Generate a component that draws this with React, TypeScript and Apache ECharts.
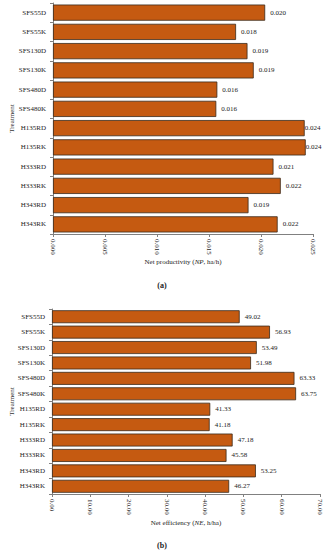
import React, { useEffect, useRef } from "react";
import * as echarts from "echarts";

const categories = ["SFS55D", "SFS55K", "SFS130D", "SFS130K", "SFS480D", "SFS480K", "H135RD", "H135RK", "H333RD", "H333RK", "H343RD", "H343RK"];
const netProductivity = [0.0204, 0.0176, 0.0187, 0.0193, 0.0158, 0.0157, 0.0242, 0.0243, 0.0212, 0.0219, 0.0188, 0.0216];
const netEfficiency = [49.02, 56.93, 53.49, 51.98, 63.33, 63.75, 41.33, 41.18, 47.18, 45.58, 53.25, 46.27];

const FONT = "'Liberation Serif', 'DejaVu Serif', serif";
const BAR = "#C55A11";
const AXIS = "#808080";

export default function App() {
  const ref = useRef<HTMLDivElement>(null);
  useEffect(() => {
    if (!ref.current) return;
    const chart = echarts.init(ref.current, null, { renderer: "svg" });
    const yAxisBase = (nameGap: number) => ({
      type: "category" as const,
      data: categories,
      inverse: true,
      name: "Treatment",
      nameLocation: "middle" as const,
      nameGap,
      nameMoveOverlap: false,
      nameTextStyle: { fontFamily: FONT, fontSize: 7, color: "#333" },
      axisLine: { show: true, lineStyle: { color: AXIS, width: 1 } },
      axisTick: { show: true, length: 3, lineStyle: { color: AXIS } },
      axisLabel: { fontFamily: FONT, fontSize: 7, color: "#222", margin: 7 },
      splitLine: { show: false },
    });
    const xAxisBase = (max: number, interval: number, digits: number, nameRich: string, nameGap: number) => ({
      type: "value" as const,
      min: 0,
      max,
      interval,
      name: nameRich,
      nameLocation: "middle" as const,
      nameGap,
      nameMoveOverlap: false,
      nameTextStyle: {
        fontFamily: FONT,
        fontSize: 7,
        color: "#222",
        rich: { i: { fontFamily: FONT, fontSize: 7, fontStyle: "italic", color: "#222" } },
      },
      axisLine: { show: true, lineStyle: { color: AXIS, width: 1 } },
      axisTick: { show: true, length: 3, lineStyle: { color: AXIS } },
      axisLabel: {
        fontFamily: FONT,
        fontSize: 7,
        color: "#222",
        rotate: -90,
        margin: 5,
        formatter: (v: number) => v.toFixed(digits),
      },
      splitLine: { show: false },
    });
    const seriesBase = (data: number[], idx: number, digits: number, crowdedAbove: number) => ({
      type: "bar" as const,
      xAxisIndex: idx,
      yAxisIndex: idx,
      data: data.map((v) => (v > crowdedAbove ? { value: v, label: { distance: 0 } } : v)),
      barCategoryGap: "16%",
      itemStyle: { color: BAR, borderColor: "#3a2a1a", borderWidth: 0.8 },
      label: {
        show: true,
        position: "right" as const,
        distance: 5,
        fontFamily: FONT,
        fontSize: 7,
        color: "#222",
        formatter: (p: any) => Number(p.value).toFixed(digits),
      },
    });
    chart.setOption({
      animation: false,
      backgroundColor: "#ffffff",
      grid: [
        { left: 53, right: 12, top: 3, height: 231, containLabel: false },
        { left: 46, right: 5, top: 309, height: 185, containLabel: false },
      ],
      xAxis: [
        { ...xAxisBase(0.025, 0.005, 3, "Net productivity ({i|NP}, ha/h)", 24), gridIndex: 0 },
        { ...xAxisBase(70, 10, 2, "Net efficiency ({i|NE}, h/ha)", 25), gridIndex: 1 },
      ],
      yAxis: [
        { ...yAxisBase(38), gridIndex: 0 },
        { ...yAxisBase(37), gridIndex: 1 },
      ],
      series: [seriesBase(netProductivity, 0, 3, 0.0235), seriesBase(netEfficiency, 1, 2, 100)],
      graphic: [
        {
          type: "text",
          x: 162,
          y: 285,
          style: { text: "(a)", fontFamily: FONT, fontSize: 8, fontWeight: "bold", fill: "#222", align: "center", verticalAlign: "middle" },
        },
        {
          type: "text",
          x: 162,
          y: 545,
          style: { text: "(b)", fontFamily: FONT, fontSize: 8, fontWeight: "bold", fill: "#222", align: "center", verticalAlign: "middle" },
        },
      ],
    });
    return () => chart.dispose();
  }, []);
  return (
    <div
      ref={ref}
      style={{ position: "fixed", left: 0, top: 0, width: 325, height: 550, background: "#fff" }}
    />
  );
}
